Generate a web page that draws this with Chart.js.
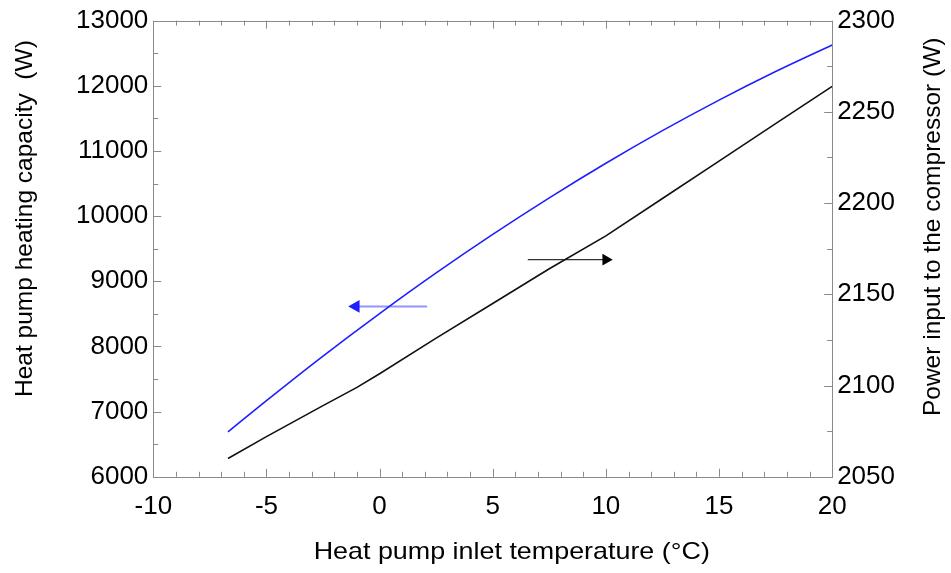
<!DOCTYPE html>
<html>
<head>
<meta charset="utf-8">
<script src="https://cdn.jsdelivr.net/npm/chart.js@4.4.1/dist/chart.umd.min.js"></script>
<style>
  html, body { margin: 0; padding: 0; background: #fff; }
  #wrap { width: 951px; height: 573px; }
</style>
</head>
<body>
<div id="wrap"><canvas id="chart"></canvas></div>
<script>
// heat pump capacity (left axis) and compressor power (right axis) vs inlet temp

const capTemps = [-6.7, -5, -2.5, 0, 2.5, 5, 7.5, 10, 12.5, 15, 17.5, 20];
const capacity = [6690, 7169, 7853, 8505, 9128, 9719, 10280, 10811, 11311, 11780, 12219, 12627];

const powTemps = [-6.7, -5, -2.5, -1, 0, 2.5, 5, 7.5, 10, 12.5, 15, 17.5, 20];
const power = [2060, 2072, 2089, 2099, 2106.5, 2126, 2145, 2164, 2182, 2202.5, 2223, 2243.5, 2264];

// arrows telling which axis each curve belongs to
const capArrowX = [2.1, -1.05];
const capArrowY = [8615, 8615];
const powArrowX = [6.55, 10.0];
const powArrowY = [2169, 2169];

const xTicks = [-10, -5, 0, 5, 10, 15, 20];
const xTitle = 'Heat pump inlet temperature (°C)';
const leftTitle = 'Heat pump heating capacity  (W)';
const rightTitle = 'Power input to the compressor (W)';

const FONT = '"Liberation Sans", Arial, sans-serif';

function pts(xs, ys) {
  return xs.map((x, i) => ({ x: x, y: ys[i] }));
}

// frame + inward ticks (major and minor), like the original plot
const frameTicks = {
  id: 'frameTicks',
  afterDatasetsDraw(chart) {
    const { ctx, chartArea: a, scales } = chart;
    ctx.save();
    ctx.strokeStyle = '#8a8a8a';
    ctx.lineWidth = 1;
    ctx.strokeRect(Math.round(a.left) + 0.5, Math.round(a.top) + 0.5,
      Math.round(a.right - a.left), Math.round(a.bottom - a.top));
    const seg = (x1, y1, x2, y2) => {
      ctx.beginPath(); ctx.moveTo(x1, y1); ctx.lineTo(x2, y2); ctx.stroke();
    };
    for (let v = scales.x.min; v <= scales.x.max; v += 1) {
      const px = Math.round(scales.x.getPixelForValue(v)) + 0.5;
      const len = v % 5 === 0 ? 8 : 5;
      seg(px, a.bottom, px, a.bottom - len);
      seg(px, a.top, px, a.top + len);
    }
    for (let v = scales.y.min; v <= scales.y.max; v += 500) {
      const py = Math.round(scales.y.getPixelForValue(v)) + 0.5;
      seg(a.left, py, a.left + (v % 1000 === 0 ? 8 : 5), py);
    }
    for (let v = scales.y1.min; v <= scales.y1.max; v += 25) {
      const py = Math.round(scales.y1.getPixelForValue(v)) + 0.5;
      seg(a.right, py, a.right - (v % 50 === 0 ? 8 : 5), py);
    }
    ctx.restore();
  }
};

// axis titles drawn by hand so the right one reads bottom-to-top
const axisTitles = {
  id: 'axisTitles',
  afterDraw(chart) {
    const { ctx, chartArea: a } = chart;
    const w = a.right - a.left, h = a.bottom - a.top;
    ctx.save();
    ctx.fillStyle = '#000';
    ctx.textAlign = 'center';
    ctx.textBaseline = 'middle';

    ctx.save();
    ctx.font = '24px ' + FONT;
    ctx.translate(a.left + w * 0.528, a.bottom + 76);
    ctx.scale(1.12, 1);
    ctx.fillText(xTitle, 0, 0);
    ctx.restore();

    ctx.font = '24.5px ' + FONT;
    ctx.save();
    ctx.translate(25, a.top + h * 0.434);
    ctx.rotate(-Math.PI / 2);
    ctx.fillText(leftTitle, 0, 0);
    ctx.restore();

    ctx.save();
    ctx.translate(933, a.top + h * 0.452);
    ctx.rotate(-Math.PI / 2);
    ctx.fillText(rightTitle, 0, 0);
    ctx.restore();
    ctx.restore();
  }
};

const tickFont = { family: FONT, size: 26 };
const plain = (v) => String(v);

const ctx = document.getElementById('chart').getContext('2d');
new Chart(ctx, {
  type: 'scatter',
  data: {
    datasets: [
      {
        label: 'Heating capacity',
        data: pts(capTemps, capacity),
        showLine: true,
        borderColor: '#1f1fff',
        borderWidth: 1.6,
        pointRadius: 0,
        cubicInterpolationMode: 'monotone',
        yAxisID: 'y'
      },
      {
        label: 'Compressor power',
        data: pts(powTemps, power),
        showLine: true,
        borderColor: '#111',
        borderWidth: 1.6,
        pointRadius: 0,
        tension: 0,
        yAxisID: 'y1'
      },
      {
        label: 'cap arrow',
        data: pts(capArrowX, capArrowY),
        showLine: true,
        borderColor: 'rgba(60,60,255,0.55)',
        borderWidth: 2,
        pointStyle: 'triangle',
        pointRotation: -90,
        pointRadius: [0, 5.5],
        pointBackgroundColor: '#1f1fff',
        pointBorderColor: '#1f1fff',
        yAxisID: 'y'
      },
      {
        label: 'power arrow',
        data: pts(powArrowX, powArrowY),
        showLine: true,
        borderColor: '#333',
        borderWidth: 1.4,
        pointStyle: 'triangle',
        pointRotation: 90,
        pointRadius: [0, 5.5],
        pointBackgroundColor: '#000',
        pointBorderColor: '#000',
        yAxisID: 'y1'
      }
    ]
  },
  options: {
    responsive: true,
    maintainAspectRatio: false,
    animation: false,
    layout: { padding: { left: 71, right: 51, top: 8, bottom: 37 } },
    plugins: {
      legend: { display: false },
      tooltip: { enabled: false }
    },
    scales: {
      x: {
        type: 'linear',
        min: -10,
        max: 20,
        afterBuildTicks: (axis) => { axis.ticks = xTicks.map(v => ({ value: v })); },
        grid: { display: false, drawTicks: false },
        border: { display: false },
        ticks: { color: '#000', font: tickFont, padding: 14, callback: plain }
      },
      y: {
        position: 'left',
        min: 6000,
        max: 13000,
        ticks: { stepSize: 1000, color: '#000', font: tickFont, padding: 5, callback: plain },
        grid: { display: false, drawTicks: false },
        border: { display: false }
      },
      y1: {
        position: 'right',
        min: 2050,
        max: 2300,
        ticks: { stepSize: 50, color: '#000', font: tickFont, padding: 5, callback: plain },
        grid: { display: false, drawTicks: false },
        border: { display: false }
      }
    }
  },
  plugins: [frameTicks, axisTitles]
});
</script>
</body>
</html>
